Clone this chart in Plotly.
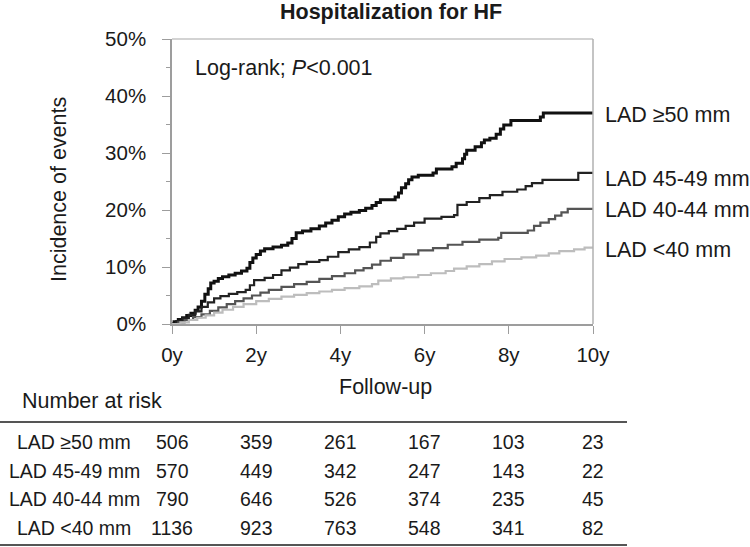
import plotly.graph_objects as go

# ---- data ----
groups = ["LAD ≥50 mm", "LAD 45-49 mm", "LAD 40-44 mm", "LAD &lt;40 mm"]

t_ge50 = [0, 0.05, 0.15, 0.25, 0.35, 0.45, 0.55, 0.62, 0.7, 0.78, 0.86, 0.92, 1.0, 1.1, 1.2, 1.35, 1.5, 1.65,
          1.78, 1.85, 1.92, 2.0, 2.1, 2.2, 2.4, 2.6, 2.75, 2.85, 2.95, 3.1, 3.3, 3.5, 3.65, 3.8, 3.95, 4.1, 4.25,
          4.45, 4.6, 4.75, 4.85, 4.95, 5.3, 5.38, 5.45, 5.55, 5.62, 5.7, 5.85, 6.2, 6.28, 6.65, 6.75, 6.9, 6.95,
          7.0, 7.2, 7.35, 7.42, 7.55, 7.7, 7.8, 7.88, 8.05, 8.75, 8.82, 10]
y_ge50 = [0, 0.4, 0.8, 1.1, 1.5, 1.9, 2.4, 3.0, 4.0, 5.2, 6.2, 7.2, 7.5, 8.0, 8.3, 8.6, 8.9, 9.3,
          9.8, 10.8, 11.6, 12.2, 12.8, 13.2, 13.5, 13.8, 14.2, 15.0, 16.0, 16.3, 16.7, 17.2, 17.7, 18.2, 18.8, 19.3, 19.6,
          19.9, 20.3, 20.8, 21.3, 21.8, 22.3, 23.0, 23.9, 24.6, 25.3, 25.8, 26.1, 26.5, 27.2, 27.6, 28.2, 29.0, 29.8,
          30.5, 31.1, 31.8, 32.3, 32.6, 33.3, 34.2, 34.9, 35.7, 36.3, 37.0, 37.0]

t_4549 = [0, 0.1, 0.25, 0.4, 0.55, 0.7, 0.85, 1.0, 1.15, 1.35, 1.55, 1.75, 1.85, 1.95, 2.2, 2.4, 2.6, 2.8, 3.0,
          3.2, 3.5, 3.7, 3.95, 4.2, 4.45, 4.7, 4.85, 4.95, 5.15, 5.35, 5.55, 5.75, 6.0, 6.4, 6.7, 6.78, 7.0, 7.3,
          7.55, 7.85, 8.2, 8.4, 8.55, 8.8, 9.65, 10]
y_4549 = [0, 0.5, 1.0, 1.6, 2.2, 3.0, 3.8, 4.5, 4.9, 5.3, 5.6, 6.0, 6.8, 7.7, 8.1, 8.6, 9.4, 9.9, 10.5,
          10.9, 11.2, 11.8, 12.6, 13.1, 13.5, 14.3, 15.3, 15.9, 16.3, 16.7, 17.2, 17.8, 18.5, 18.8, 19.1, 20.9, 21.4, 22.1,
          22.6, 23.2, 23.6, 24.2, 24.7, 25.3, 26.5, 26.5]

t_4044 = [0, 0.15, 0.3, 0.5, 0.7, 0.9, 1.1, 1.3, 1.5, 1.7, 1.9, 2.1, 2.3, 2.6, 2.9, 3.2, 3.5, 3.8, 4.1, 4.35,
          4.55, 4.75, 4.95, 5.2, 5.5, 5.85, 6.2, 6.55, 6.9, 7.3, 7.75, 7.82, 8.45, 8.6, 8.75, 8.95, 9.1, 9.25, 9.4, 10]
y_4044 = [0, 0.3, 0.7, 1.2, 1.7, 2.3, 2.9, 3.5, 4.0, 4.5, 5.0, 5.5, 6.0, 6.5, 7.0, 7.4, 7.9, 8.4, 8.9, 9.4,
          9.8, 10.4, 11.1, 11.6, 12.2, 12.9, 13.3, 13.9, 14.4, 14.8, 15.1, 16.0, 16.4, 17.2, 17.8, 18.4, 19.0, 19.6, 20.2, 20.2]

t_lt40 = [0, 0.2, 0.4, 0.6, 0.8, 1.0, 1.2, 1.45, 1.7, 2.0, 2.3, 2.6, 2.9, 3.2, 3.5, 3.8, 4.1, 4.45, 4.75, 4.9,
          5.2, 5.5, 5.85, 6.15, 6.5, 6.7, 7.0, 7.3, 7.6, 7.9, 8.3, 8.65, 8.95, 9.2, 9.55, 9.8, 10]
y_lt40 = [0, 0.3, 0.7, 1.1, 1.5, 2.0, 2.5, 3.0, 3.5, 4.0, 4.4, 4.8, 5.1, 5.4, 5.7, 6.0, 6.3, 6.6, 7.0, 7.6,
          8.0, 8.2, 8.6, 8.9, 9.3, 9.7, 10.1, 10.5, 11.0, 11.4, 11.7, 12.0, 12.4, 12.8, 13.1, 13.4, 13.4]

x_ticks = [0, 2, 4, 6, 8, 10]
x_tick_labels = ["0y", "2y", "4y", "6y", "8y", "10y"]
y_ticks = [0, 10, 20, 30, 40, 50]
y_tick_labels = ["0%", "10%", "20%", "30%", "40%", "50%"]

risk_ge50 = [506, 359, 261, 167, 103, 23]
risk_4549 = [570, 449, 342, 247, 143, 22]
risk_4044 = [790, 646, 526, 374, 235, 45]
risk_lt40 = [1136, 923, 763, 548, 341, 82]

end_labels_y = [36.7, 25.4, 20.0, 13.0]

# ---- figure ----
FONT = "Liberation Sans, Arial, sans-serif"
TXT = "#1a1a1a"
W, H = 750, 547
L, R, T, B = 172, 157, 39, 223
pw, ph = W - L - R, H - T - B


def px(xp):
    return (xp - L) / pw


def py(yp):
    return (H - B - yp) / ph


series = [
    (t_ge50, y_ge50, "#111111", 3.0),
    (t_4549, y_4549, "#222222", 2.2),
    (t_4044, y_4044, "#555555", 2.2),
    (t_lt40, y_lt40, "#bdbdbd", 2.2),
]

fig = go.Figure()
for (tx, ty, col, w), name in zip(series, groups):
    fig.add_trace(go.Scatter(x=tx, y=ty, mode="lines", line=dict(color=col, width=w, shape="hv"),
                             name=name, showlegend=False, hoverinfo="skip"))

axis_col = "#9d9d9d"
fig.update_xaxes(range=[0, 10], tickvals=x_ticks, ticktext=x_tick_labels, ticks="outside", ticklen=8,
                 tickcolor=axis_col, showline=True, linecolor=axis_col, linewidth=1.5, showgrid=False,
                 zeroline=False, tickfont=dict(family=FONT, size=20.5, color=TXT), ticklabelstandoff=4)
fig.update_yaxes(range=[0, 50], tickvals=y_ticks, ticktext=y_tick_labels, ticks="outside", ticklen=8,
                 tickcolor=axis_col, showline=True, linecolor=axis_col, linewidth=1.5, showgrid=False,
                 zeroline=False, tickfont=dict(family=FONT, size=20.5, color=TXT), ticklabelstandoff=12,
                 minor=dict(dtick=5, ticks="outside", ticklen=4, tickcolor=axis_col))

# frame top / right
fig.add_shape(type="line", xref="paper", yref="paper", x0=0, x1=1, y0=1, y1=1,
              line=dict(color="#c4c4c4", width=1.5))
fig.add_shape(type="line", xref="paper", yref="paper", x0=1, x1=1, y0=0, y1=1,
              line=dict(color="#b0b0b0", width=1.5))

ann = []
ann.append(dict(text="<b>Hospitalization for HF</b>", x=px(391), y=py(12), xref="paper", yref="paper",
                showarrow=False, font=dict(family=FONT, size=21.5, color=TXT), xanchor="center", yanchor="middle"))
ann.append(dict(text="Log-rank; <i>P</i>&lt;0.001", x=px(193), y=py(68), xref="paper", yref="paper",
                showarrow=False, font=dict(family=FONT, size=21.5, color=TXT), xanchor="left", yanchor="middle"))
ann.append(dict(text="Incidence of events", x=px(59), y=py(190), xref="paper", yref="paper", textangle=-90,
                showarrow=False, font=dict(family=FONT, size=21.5, color=TXT), xanchor="center", yanchor="middle"))
ann.append(dict(text="Follow-up", x=px(385), y=py(387), xref="paper", yref="paper",
                showarrow=False, font=dict(family=FONT, size=21.5, color=TXT), xanchor="center", yanchor="middle"))
ann.append(dict(text="Number at risk", x=px(92), y=py(401), xref="paper", yref="paper",
                showarrow=False, font=dict(family=FONT, size=21.5, color=TXT), xanchor="center", yanchor="middle"))

for name, yv in zip(groups, end_labels_y):
    ann.append(dict(text=name, x=px(603), y=yv, xref="paper", yref="y", showarrow=False,
                    font=dict(family=FONT, size=21.5, color=TXT), xanchor="left", yanchor="middle"))

row_y = [442, 470.5, 499, 528]
for name, risks, ry in zip(groups, [risk_ge50, risk_4549, risk_4044, risk_lt40], row_y):
    ann.append(dict(text=name, x=px(74), y=py(ry), xref="paper", yref="paper", showarrow=False,
                    font=dict(family=FONT, size=19.5, color=TXT), xanchor="center", yanchor="middle"))
    for xv, r in zip(x_ticks, risks):
        ann.append(dict(text=str(r), x=xv, y=py(ry), xref="x", yref="paper", showarrow=False,
                        font=dict(family=FONT, size=19.5, color=TXT), xanchor="center", yanchor="middle"))

for yl in [422, 545]:
    fig.add_shape(type="line", xref="paper", yref="paper", x0=px(0), x1=px(627), y0=py(yl), y1=py(yl),
                  line=dict(color="#555555", width=2))

fig.update_layout(width=W, height=H, margin=dict(l=L, r=R, t=T, b=B, autoexpand=False),
                  paper_bgcolor="white", plot_bgcolor="white", annotations=ann, showlegend=False)

fig.write_html("out.html", config={"displayModeBar": False},
               post_script="document.body.style.margin='0';document.body.style.overflow='hidden';")
